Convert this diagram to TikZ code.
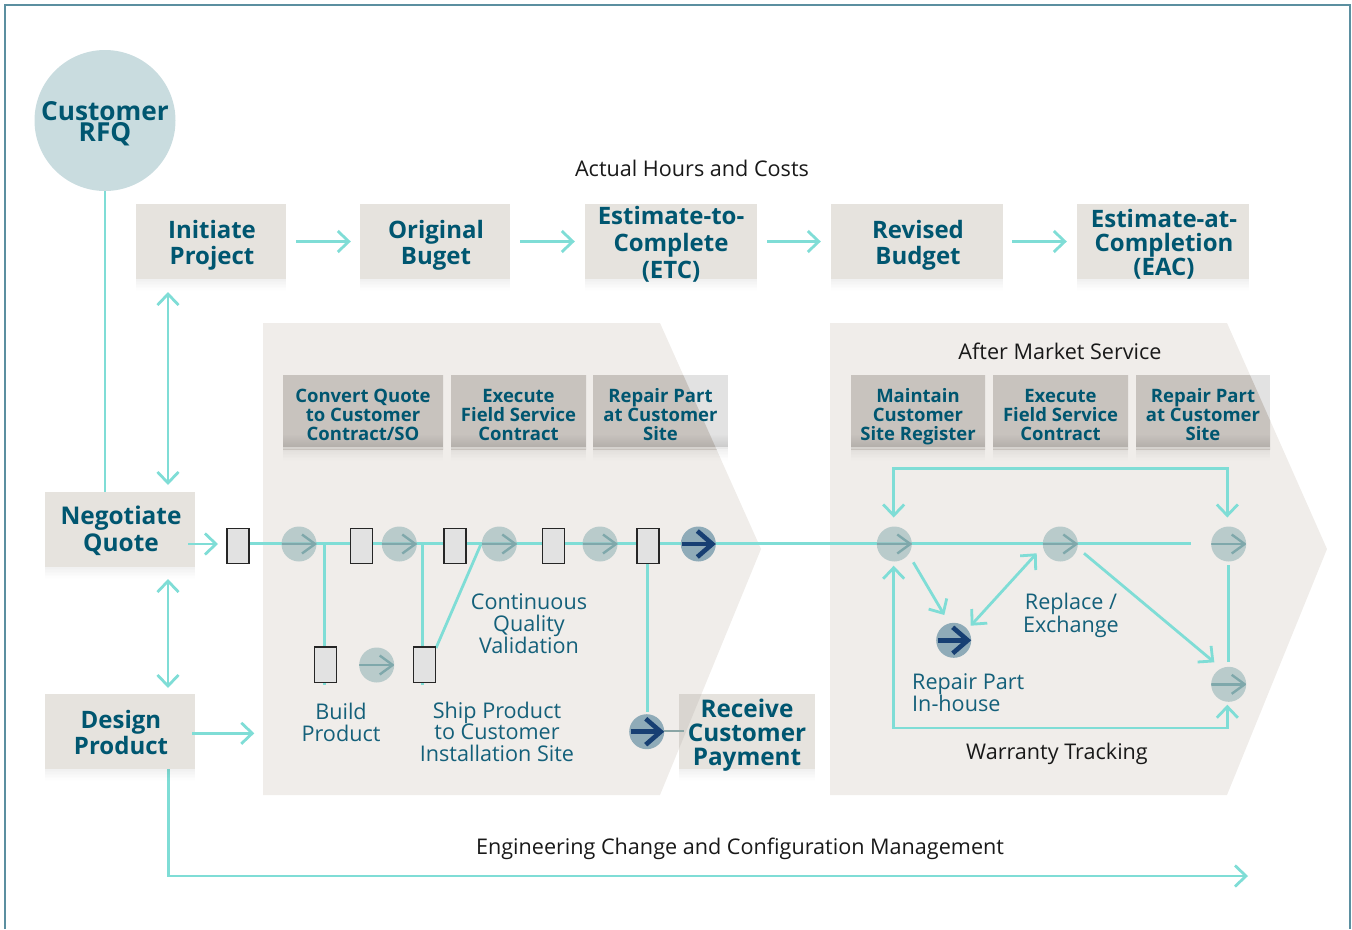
\documentclass[tikz,border=0pt]{standalone}
\usepackage{fontspec}
\setmainfont{Open Sans}
\usetikzlibrary{arrows.meta,shadows,fadings}
\pgfdeclarelayer{panels}
\pgfdeclarelayer{lines}
\pgfsetlayers{panels,lines,main}
\definecolor{frameblue}{HTML}{5B8FA0}
\definecolor{flowc}{HTML}{7FDDD6}
\definecolor{boxc}{HTML}{E6E3DE}
\definecolor{panelc}{HTML}{F0EDEA}
\definecolor{headc}{HTML}{E2E2E2}
\definecolor{headdark}{HTML}{C8C3BE}
\definecolor{recvdark}{HTML}{D9D5D0}
\definecolor{titlec}{HTML}{005670}
\definecolor{labelc}{HTML}{14607A}
\definecolor{rfqc}{HTML}{C9DCDF}
\definecolor{lightc}{HTML}{A3BDBE}
\definecolor{lightg}{HTML}{7FA8AB}
\definecolor{darkc}{HTML}{8FABB8}
\definecolor{navyc}{HTML}{173F73}
\definecolor{payc}{HTML}{8AA5A5}
\tikzset{
  softshadow/.style={
    general shadow={fill=black,opacity=.007,shadow yshift=-1.5pt,xscale=.995},
    general shadow={fill=black,opacity=.007,shadow yshift=-3pt,xscale=.99},
    general shadow={fill=black,opacity=.007,shadow yshift=-4.5pt,xscale=.98},
    general shadow={fill=black,opacity=.007,shadow yshift=-6pt,xscale=.97},
    general shadow={fill=black,opacity=.007,shadow yshift=-7.5pt,xscale=.96},
    general shadow={fill=black,opacity=.006,shadow yshift=-9pt,xscale=.95},
    general shadow={fill=black,opacity=.005,shadow yshift=-10.5pt,xscale=.94},
    general shadow={fill=black,opacity=.004,shadow yshift=-12pt,xscale=.93}},
  flow/.style={draw=flowc,line width=2.8pt},
  arrowtip/.style={-{Straight Barb[length=11pt,width=21pt]}},
  bothtip/.style={{Straight Barb[length=11pt,width=21pt]}-{Straight Barb[length=11pt,width=21pt]}},
  lastbase/.style={text height=#1*2pt,text depth=0pt},
  bigbox/.style={rectangle,fill=boxc,softshadow,inner sep=0pt,align=center,text=titlec,
    font=\fontsize{24}{26}\bfseries\selectfont},
  headbox/.style={rectangle,fill=headc,softshadow,inner sep=0pt,align=center,text=titlec,
    minimum height=74pt,lastbase=28,font=\fontsize{18.5}{19}\bfseries\selectfont},
  panelpart/.style={fill=headdark},
  smallrect/.style={rectangle,draw=black!85,line width=1.3pt,fill=headc,minimum width=22pt,minimum height=35.5pt,inner sep=0pt},
  flowlight/.style={circle,minimum size=35pt,inner sep=0pt,fill=lightc,fill opacity=.7,
    path picture={
      \draw[lightg,line width=2.4pt] ([xshift=-17.5pt]path picture bounding box.center) -- ([xshift=16pt]path picture bounding box.center);
      \draw[lightg,line width=2.4pt] ([xshift=3pt,yshift=9.5pt]path picture bounding box.center) -- ([xshift=16pt]path picture bounding box.center) -- ([xshift=3pt,yshift=-9.5pt]path picture bounding box.center);
    }},
  flowdark/.style={circle,minimum size=35pt,inner sep=0pt,fill=darkc,
    path picture={
      \draw[navyc,line width=4.6pt] ([xshift=-16pt]path picture bounding box.center) -- ([xshift=13pt]path picture bounding box.center);
      \draw[navyc,line width=4.6pt] ([xshift=-1pt,yshift=13pt]path picture bounding box.center) -- ([xshift=14pt]path picture bounding box.center) -- ([xshift=-1pt,yshift=-13pt]path picture bounding box.center);
    }},
  blacklabel/.style={text=black!90,inner sep=0pt,font=\fontsize{21.6}{24}\selectfont},
  teallabel/.style={text=labelc,inner sep=0pt,align=center,font=\fontsize{21.6}{21.5}\selectfont},
}
\newcommand{\headshade}{\fill[black,opacity=.1,path fading=north] ([yshift=2pt]path picture bounding box.south west) rectangle ([yshift=15pt]path picture bounding box.south east);
  \fill[white,opacity=.25] (path picture bounding box.south west) rectangle ([yshift=2pt]path picture bounding box.south east);}
\begin{document}
\begin{tikzpicture}[x=1pt,y=-1pt]
\useasboundingbox (0,0) rectangle (1352,929);
\coordinate (pa1) at (263,323); \coordinate (pa2) at (660,323); \coordinate (pa3) at (761,549); \coordinate (pa4) at (660,795); \coordinate (pa5) at (263,795);
\coordinate (pb1) at (830,323); \coordinate (pb2) at (1227,323); \coordinate (pb3) at (1327,549); \coordinate (pb4) at (1227,795); \coordinate (pb5) at (830,795);
\coordinate (frameA) at (5,929); \coordinate (frameB) at (5,5); \coordinate (frameC) at (1350,5); \coordinate (frameD) at (1350,929);
\begin{pgfonlayer}{panels}
\fill[panelc] (pa1) -- (pa2) -- (pa3) -- (pa4) -- (pa5) -- cycle;
\fill[panelc] (pb1) -- (pb2) -- (pb3) -- (pb4) -- (pb5) -- cycle;
\draw[frameblue,line width=1.3pt] (frameA) -- (frameB) -- (frameC) -- (frameD);
\end{pgfonlayer}

% top row
\node[circle,fill=rfqc,minimum size=141pt,inner sep=0pt,align=center,text=titlec,lastbase=20.5,font=\fontsize{26.2}{21}\bfseries\selectfont] (rfq) at (105,120.5) {Customer\\RFQ};
\node[bigbox,minimum width=150pt,minimum height=75pt,lastbase=22.5] (initiate) at (211,241.5) {\hspace*{2pt}Initiate\\\hspace*{2pt}Project};
\node[bigbox,minimum width=150pt,minimum height=75pt,lastbase=22.5] (original) at (435,241.5) {\hspace*{2pt}Original\\\hspace*{2pt}Buget};
\node[bigbox,minimum width=172pt,minimum height=75pt,lastbase=36.5,font=\fontsize{24}{27}\bfseries\selectfont] (etc) at (671,241.5) {Estimate-to-\\Complete\\(ETC)};
\node[bigbox,minimum width=172pt,minimum height=75pt,lastbase=22.5] (revised) at (917,241.5) {\hspace*{2pt}Revised\\\hspace*{2pt}Budget};
\node[bigbox,minimum width=172pt,minimum height=75pt,lastbase=33.5,font=\fontsize{24}{24}\bfseries\selectfont] (eac) at (1163,241.5) {\hspace*{2pt}Estimate-at-\\\hspace*{2pt}Completion\\\hspace*{2pt}(EAC)};
\node[bigbox,minimum width=150pt,minimum height=75pt,lastbase=22,font=\fontsize{24.4}{27}\bfseries\selectfont] (negotiate) at (120,529.5) {\hspace*{2pt}Negotiate\\\hspace*{2pt}Quote};
\node[bigbox,minimum width=150pt,minimum height=75pt,lastbase=22.5] (design) at (120,731.5) {\hspace*{2pt}Design\\\hspace*{2pt}Product};

% header boxes
\node[headbox,minimum width=160pt,path picture={\fill[panelpart] (pa1) -- (pa2) -- (pa3) -- (pa4) -- (pa5) -- cycle; \headshade}] (h1) at (363,412) {Convert Quote\\to Customer\\Contract/SO};
\node[headbox,minimum width=135pt,path picture={\fill[panelpart] (pa1) -- (pa2) -- (pa3) -- (pa4) -- (pa5) -- cycle; \headshade}] (h2) at (518.5,412) {Execute\\Field Service\\Contract};
\node[headbox,minimum width=135pt,path picture={\fill[panelpart] (pa1) -- (pa2) -- (pa3) -- (pa4) -- (pa5) -- cycle; \headshade}] (h3) at (660.5,412) {Repair Part\\at Customer\\Site};
\node[headbox,minimum width=134pt,path picture={\fill[panelpart] (pb1) -- (pb2) -- (pb3) -- (pb4) -- (pb5) -- cycle; \headshade}] (h4) at (918,412) {Maintain\\Customer\\Site Register};
\node[headbox,minimum width=135pt,path picture={\fill[panelpart] (pb1) -- (pb2) -- (pb3) -- (pb4) -- (pb5) -- cycle; \headshade}] (h5) at (1060.5,412) {Execute\\Field Service\\Contract};
\node[headbox,minimum width=134pt,path picture={\fill[panelpart] (pb1) -- (pb2) -- (pb3) -- (pb4) -- (pb5) -- cycle; \headshade}] (h6) at (1203,412) {Repair Part\\at Customer\\Site};

% receive box
\node[bigbox,minimum width=136pt,minimum height=75pt,lastbase=33.5,font=\fontsize{24.3}{24}\bfseries\selectfont,path picture={\fill[recvdark] (pa1) -- (pa2) -- (pa3) -- (pa4) -- (pa5) -- cycle;}] (receive) at (747,731.5) {Receive\\Customer\\Payment};

% flow marks
\node[smallrect] (r1) at (238,546) {};
\node[smallrect] (r2) at (361.3,546) {};
\node[smallrect] (r3) at (455,546) {};
\node[smallrect] (r4) at (553.5,546) {};
\node[smallrect] (r5) at (648,546) {};
\node[smallrect] (r6) at (325.7,664.7) {};
\node[smallrect] (r7) at (424.3,664.7) {};
\node[flowlight] (c1) at (299,544) {};
\node[flowlight] (c2) at (399.3,544) {};
\node[flowlight] (c3) at (499.3,544) {};
\node[flowlight] (c4) at (600,544) {};
\node[flowdark] (c5) at (698.3,544) {};
\node[flowlight] (c6) at (376.7,665) {};
\node[flowdark] (pay) at (646.7,731.7) {};
\node[flowlight] (s1) at (894.3,544) {};
\node[flowlight] (s2) at (1060.3,544) {};
\node[flowlight] (s3) at (1228.7,544) {};
\node[flowlight] (s4) at (1228.7,684.3) {};
\node[flowdark] (s5) at (953.7,640.3) {};

% free ends
\coordinate (mainend) at (1191,543.5);
\coordinate (stubA) at (324.3,685);
\coordinate (stubB) at (422.7,685);
\coordinate (diagA) at (481,544);
\coordinate (diagB) at (436,648);
\coordinate (payup) at (647.3,711.7);
\coordinate (payend) at (684,731);
\coordinate (negA) at (188,544);
\coordinate (negB) at (218,544);
\coordinate (desA) at (192.3,733.3);
\coordinate (desB) at (254.3,733.3);
\coordinate (vA) at (168,292);
\coordinate (vB) at (168,485);
\coordinate (vC) at (168,579);
\coordinate (vD) at (168,688);
\coordinate (engA) at (168.7,769);
\coordinate (engB) at (168.7,876);
\coordinate (engC) at (1248,876);
\coordinate (loopA) at (893.7,517.5);
\coordinate (loopB) at (893.7,468.3);
\coordinate (loopC) at (1227.3,468.3);
\coordinate (loopD) at (1227.3,517.5);
\coordinate (botA) at (893.7,565.7);
\coordinate (botB) at (893.7,728);
\coordinate (botC) at (1227.3,728);
\coordinate (botD) at (1227.3,704.7);
\coordinate (rpA) at (913.3,562.3);
\coordinate (rpB) at (944.3,615);
\coordinate (exA) at (970.7,625.7);
\coordinate (exB) at (1036.7,553.3);
\coordinate (dgA) at (1084,553.3);
\coordinate (dgB) at (1214.3,662.3);
\coordinate (sideA) at (1228.7,565.3);
\coordinate (sideB) at (1228.7,661.7);

\begin{pgfonlayer}{lines}
\draw[flow] (rfq) -- (rfq |- negotiate.north);
\draw[flow] (r1.east |- mainend) -- (mainend);
\draw[flow] (c1 -| stubA) -- (stubA);
\draw[flow] (c2 -| stubB) -- (stubB);
\draw[flow] (diagA) -- (diagB);
\draw[flow] (r5.south -| payup) -- (payup);
\draw[flow,bothtip] (vA) -- (vB);
\draw[flow,bothtip] (vC) -- (vD);
\draw[flow,arrowtip] (engA) -- (engB) -- (engC);
\draw[flow,bothtip] (loopA) -- (loopB) -- (loopC) -- (loopD);
\draw[flow,bothtip] (botA) -- (botB) -- (botC) -- (botD);
\draw[flow,arrowtip] (rpA) -- (rpB);
\draw[flow,bothtip] (exA) -- (exB);
\draw[flow,arrowtip] (dgA) -- (dgB);
\draw[flow] (sideA) -- (sideB);
\draw[flow,arrowtip,shorten <=10pt,shorten >=9pt] (initiate) -- (original);
\draw[flow,arrowtip,shorten <=10pt,shorten >=10pt] (original) -- (etc);
\draw[flow,arrowtip,shorten <=10pt,shorten >=10pt] (etc) -- (revised);
\draw[flow,arrowtip,shorten <=9pt,shorten >=10pt] (revised) -- (eac);
\end{pgfonlayer}
\draw[flow,arrowtip] (negA) -- (negB);
\draw[flow,arrowtip] (desA) -- (desB);
\draw[payc,line width=2.5pt] (pay.east |- payend) -- (payend);

% labels
\node[blacklabel] (t1) at (692,168.3) {Actual Hours and Costs};
\node[blacklabel] (t2) at (1060,351.3) {After Market Service};
\node[blacklabel] (t3) at (1057,754) {Warranty Tracking};
\node[blacklabel] (t4) at (740,849) {Engineering Change and Configuration Management};
\node[teallabel] (l1) at (341,722.3) {Build\\Product};
\node[teallabel] (l2) at (497,731.7) {Ship Product\\to Customer\\Installation Site};
\node[teallabel] (l3) at (529,623.9) {Continuous\\Quality\\Validation};
\node[teallabel] (l4) at (1071,615.5) {Replace /\\Exchange};
\node[teallabel,align=left,anchor=west] (l5) at (912,692.5) {Repair Part\\In-house};
\end{tikzpicture}
\end{document}
